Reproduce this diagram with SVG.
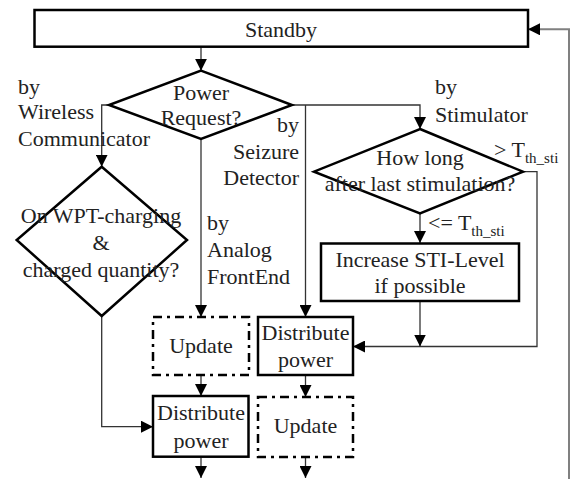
<svg xmlns="http://www.w3.org/2000/svg" width="570" height="479" viewBox="0 0 570 479" font-family="'Liberation Serif', 'DejaVu Serif', serif">
<style>
.box{fill:#fff;stroke:#000;stroke-width:2.5}
.dd{fill:#fff;stroke:#000;stroke-width:2.5;stroke-dasharray:9 5 3 5}
.dia{fill:#fff;stroke:#000;stroke-width:2.5}
.c{fill:none;stroke:#333;stroke-width:1.3}
.g{fill:none;stroke:#808080;stroke-width:2}
.t{font-family:'Liberation Serif','DejaVu Serif',serif;font-size:22px;fill:#222}
.m{text-anchor:middle}
.e{text-anchor:end}
</style>
<defs>
<marker id="a" markerUnits="userSpaceOnUse" markerWidth="12" markerHeight="12" viewBox="0 0 12 12" refX="12" refY="6" orient="auto">
<path d="M0,0 L12,6 L0,12 Z" fill="#000"/>
</marker>
</defs>
<g id="connectors">
<path class="c" d="M201,46.7 V70.7" marker-end="url(#a)"/>
<path class="c" d="M109,105 H101.7 V166.7" marker-end="url(#a)"/>
<path class="c" d="M201,139 V317" marker-end="url(#a)"/>
<path class="c" d="M292,105 H420 V129" marker-end="url(#a)"/>
<path class="c" d="M305.5,105 V317" marker-end="url(#a)"/>
<path class="c" d="M101.7,316 V426.7 H153" marker-end="url(#a)"/>
<path class="c" d="M201,375 V396" marker-end="url(#a)"/>
<path class="c" d="M305.5,375 V397" marker-end="url(#a)"/>
<path class="c" d="M420,213.3 V243" marker-end="url(#a)"/>
<path class="c" d="M523,171.7 H537 V346.5 H353" marker-end="url(#a)"/>
<path class="c" d="M420,301 V346.5" marker-end="url(#a)"/>
<path class="c" d="M201,457 V478" marker-end="url(#a)"/>
<path class="c" d="M305.5,457 V478" marker-end="url(#a)"/>
<path class="g" d="M569,479 V29.3 H528" marker-end="url(#a)"/>
</g>
<g id="standby">
<rect class="box" x="34.5" y="10" width="493.5" height="36.7"/>
<text class="t m" x="281" y="37">Standby</text>
</g>
<g id="power-request">
<polygon class="dia" points="201,70.7 292,105 201,139 109,105"/>
<text class="t m" x="201" y="100">Power</text>
<text class="t m" x="201" y="125">Request?</text>
</g>
<g id="wpt">
<polygon class="dia" points="101.7,166.7 187,240 101.7,316 16.7,240"/>
<text class="t m" x="101" y="223">On WPT-charging</text>
<text class="t m" x="101" y="250">&amp;</text>
<text class="t m" x="101" y="277">charged quantity?</text>
</g>
<g id="how-long">
<polygon class="dia" points="420,129 523,171.7 420,213.3 314,171.7"/>
<text class="t m" x="420" y="165">How long</text>
<text class="t m" x="420" y="191">after last stimulation?</text>
</g>
<g id="increase">
<rect class="box" x="321" y="243.5" width="198" height="57.5"/>
<text class="t m" x="420" y="267">Increase STI-Level</text>
<text class="t m" x="420" y="293">if possible</text>
</g>
<g id="update1">
<rect class="dd" x="153" y="317" width="96" height="58"/>
<text class="t m" x="201" y="353">Update</text>
</g>
<g id="distribute1">
<rect class="box" x="258" y="317" width="95" height="58"/>
<text class="t m" x="305.5" y="340">Distribute</text>
<text class="t m" x="305.5" y="367">power</text>
</g>
<g id="distribute2">
<rect class="box" x="153" y="396" width="95.5" height="60.7"/>
<text class="t m" x="201" y="420">Distribute</text>
<text class="t m" x="201" y="448">power</text>
</g>
<g id="update2">
<rect class="dd" x="258" y="397" width="95" height="60"/>
<text class="t m" x="305.5" y="433">Update</text>
</g>
<g id="labels">
<text class="t" x="18" y="94">by</text>
<text class="t" x="18" y="119">Wireless</text>
<text class="t" x="18" y="146">Communicator</text>
<text class="t" x="207" y="230">by</text>
<text class="t" x="207" y="257">Analog</text>
<text class="t" x="207" y="284">FrontEnd</text>
<text class="t e" x="299" y="132">by</text>
<text class="t e" x="299" y="159">Seizure</text>
<text class="t e" x="299" y="185">Detector</text>
<text class="t" x="435" y="94">by</text>
<text class="t" x="435" y="122">Stimulator</text>
<text class="t" x="494" y="157">&gt; T<tspan font-size="15" dy="6">th_sti</tspan></text>
<text class="t" x="428" y="230">&lt;= T<tspan font-size="15" dy="6">th_sti</tspan></text>
</g>
</svg>
